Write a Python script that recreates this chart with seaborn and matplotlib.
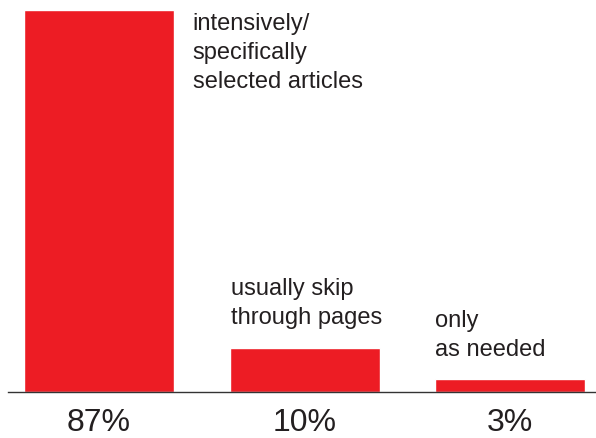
import matplotlib
matplotlib.use("Agg")
import matplotlib.pyplot as plt
import seaborn as sns
import pandas as pd

# values
shares = [87, 10, 3]
pct_labels = ["87%", "10%", "3%"]
descriptions = [
    "intensively/\nspecifically\nselected articles",
    "usually skip\nthrough pages",
    "only\nas needed",
]

sns.set_theme(style="white")
plt.rcParams["font.family"] = ["Liberation Sans", "DejaVu Sans"]

RED = "#ED1C24"
INK = "#231F20"
BAR_W = 0.73

df = pd.DataFrame({"group": pct_labels, "share": shares})

fig = plt.figure(figsize=(5.96, 4.38), dpi=100)
ax = fig.add_axes([8 / 596, 1 - 392 / 438, 1 - 8 / 596, (392 - 10) / 438])

sns.barplot(data=df, x="group", y="share", order=pct_labels, color=RED,
            saturation=1, width=BAR_W, ax=ax)

ax.set_ylim(0, 87)
ax.set_xlim(-0.443, 2.418)
ax.set_xlabel("")
ax.set_ylabel("")
ax.set_yticks([])
ax.tick_params(axis="x", length=0, pad=11.5, labelsize=23, labelcolor=INK)

for side in ["top", "right", "left"]:
    ax.spines[side].set_visible(False)
ax.spines["bottom"].set_color("#333333")
ax.spines["bottom"].set_linewidth(1.0)

# descriptive labels: first one beside its bar, the others above the bar
txt = dict(ha="left", va="top", fontsize=17, color=INK, linespacing=1.4)
ax.text(0 + 0.456, 86.3, descriptions[0], **txt)
ax.text(1 - BAR_W / 2 + 0.005, 26.0, descriptions[1], **txt)
ax.text(2 - BAR_W / 2, 18.7, descriptions[2], **txt)

fig.savefig("out.png", dpi=100)
